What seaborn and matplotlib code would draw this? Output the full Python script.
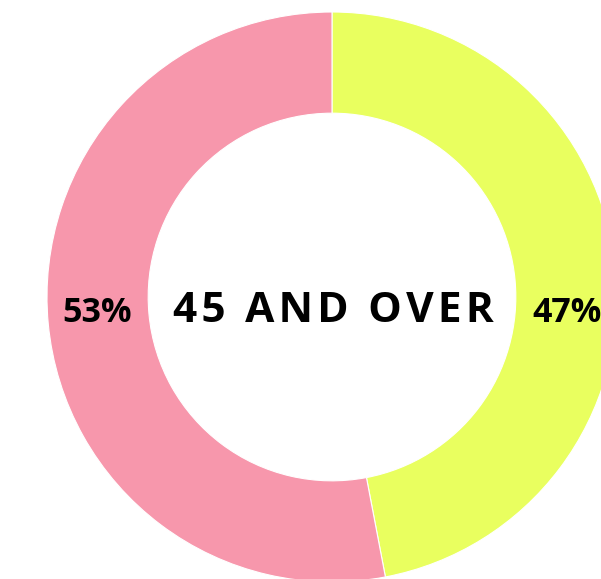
import matplotlib
matplotlib.use("Agg")
import matplotlib.pyplot as plt
import seaborn as sns

# data
groups = ["Yellow", "Pink"]
shares = [47, 53]
colors = ["#e9ff5f", "#f797ac"]
title = "45 AND OVER"

sns.set_theme(style="white")
plt.rcParams["font.family"] = ["Open Sans", "DejaVu Sans"]

fig = plt.figure(figsize=(6.01, 5.79), dpi=100)
# square axes box, centered where the donut sits (partly off canvas)
ax = fig.add_axes([47 / 601, -3 / 579, 570 / 601, 570 / 579])

ax.pie(shares, colors=colors, startangle=90, counterclock=False, radius=1,
       wedgeprops=dict(width=0.355, edgecolor="white", linewidth=0.8))
ax.set_xlim(-1, 1)
ax.set_ylim(-1, 1)
ax.axis("off")

# spaced out centre label (hair spaces for tracking)
spaced = "\u200a".join(title)
ax.text(0.005, -0.088, spaced, ha="center", va="baseline",
        fontsize=30.5, fontweight="bold", color="black")

# percentage labels, left and right on the ring
ax.text(-0.825, -0.088, f"{shares[1]}%", ha="center", va="baseline",
        fontsize=24.5, fontweight="bold", color="black")
ax.text(0.825, -0.088, f"{shares[0]}%", ha="center", va="baseline",
        fontsize=24.5, fontweight="bold", color="black")

fig.savefig("out.png", dpi=100)
